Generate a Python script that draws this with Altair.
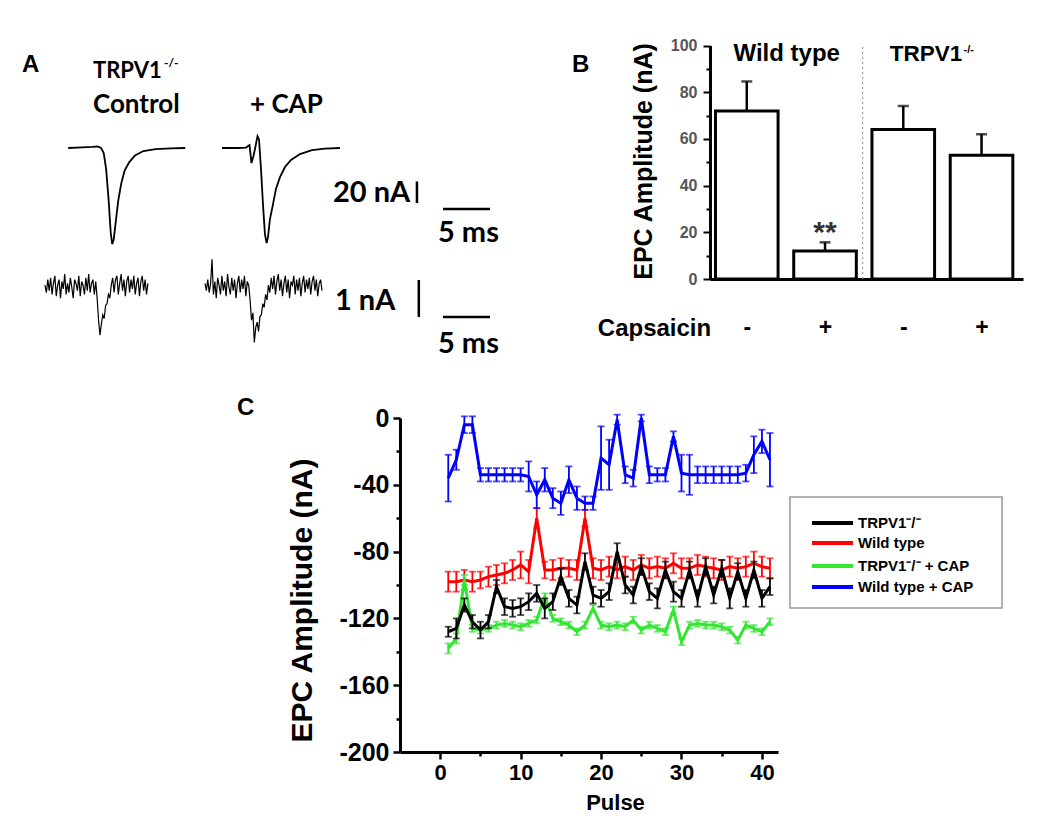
import altair as alt
import pandas as pd

# ================= Panel C : EPC amplitude per pulse =================
pulse = list(range(1, 42))

ko_mean = [-128, -126, -112, -122, -127, -122, -101, -113, -114, -113,
           -110, -105, -114, -110, -95, -108, -112, -86, -106, -108,
           -104, -80, -100, -106, -89, -104, -108, -91, -104, -108,
           -91, -108, -89, -106, -90, -108, -92, -108, -91, -108,
           -101]
ko_err = [3, 6, 4, 4, 5, 4, 4, 5, 5, 5,
          5, 5, 6, 5, 5, 5, 5, 5, 5, 5,
          5, 5, 5, 5, 5, 5, 6, 5, 6, 5,
          5, 5, 5, 5, 5, 6, 5, 5, 5, 5,
          5]

wt_mean = [-98, -98, -97, -98, -97, -95, -94, -93, -91, -88,
           -92, -60, -91, -91, -90, -90, -91, -60, -90, -91,
           -89, -91, -89, -91, -88, -90, -89, -90, -87, -90,
           -90, -88, -89, -90, -91, -89, -90, -89, -87, -89,
           -90]
wt_err = [6, 6, 6, 6, 5, 6, 6, 6, 6, 8,
          7, 6, 5, 6, 6, 5, 6, 5, 6, 6,
          6, 5, 6, 6, 6, 6, 6, 6, 6, 6,
          6, 6, 6, 6, 6, 6, 6, 6, 7, 6,
          6]

kocap_mean = [-138, -132, -97, -126, -127, -126, -124, -123, -124, -125,
              -123, -121, -107, -120, -122, -124, -128, -124, -114, -124,
              -125, -124, -125, -121, -127, -124, -126, -128, -115, -134,
              -124, -123, -124, -124, -125, -127, -133, -124, -126, -128,
              -122]
kocap_err = [3, 3, 3, 2, 2, 2, 2, 2, 2, 2,
             2, 2, 2, 2, 2, 2, 2, 2, 2, 2,
             2, 2, 2, 2, 2, 2, 2, 2, 2, 2,
             2, 2, 2, 2, 2, 2, 2, 2, 2, 2,
             2]

wtcap_mean = [-36, -25, -4, -4, -34, -34, -34, -34, -34, -34,
              -35, -46, -37, -48, -51, -37, -48, -51, -51, -24,
              -28, -1, -34, -36, 0, -34, -34, -34, -11, -33,
              -34, -34, -34, -34, -34, -34, -34, -33, -22, -14,
              -25]
wtcap_err = [14, 6, 5, 5, 4, 4, 4, 4, 4, 4,
             9, 8, 7, 6, 7, 8, 7, 4, 4, 19,
             15, 3, 5, 5, 2, 5, 4, 4, 3, 11,
             12, 5, 5, 5, 5, 5, 5, 5, 11, 7,
             16]

series_names = ["TRPV1\u207b/\u207b", "Wild type", "TRPV1\u207b/\u207b + CAP", "Wild type + CAP"]
series_colors = ["#000000", "#ff0000", "#33e633", "#0000ff"]
series_means = [ko_mean, wt_mean, kocap_mean, wtcap_mean]
series_errs = [ko_err, wt_err, kocap_err, wtcap_err]
draw_order = [2, 0, 1, 3]   # green, black, red, blue (last on top)

# ================= Panel B : bar chart =================
bar_x = [1, 2, 3, 4]
bar_mean = [72, 12, 64, 53]
bar_err = [12.6, 3.7, 10.1, 9.0]

# ================= Panel A : current traces =================
ctrl_t = [0, 1.5, 2.55, 3.1, 3.5, 3.78, 4.04, 4.3, 4.52, 4.68, 4.84, 5.05,
          5.32, 5.64, 6.0, 6.5, 7.1, 8.0, 9.3, 10.9, 12.45]
ctrl_v = [0, 0.5, 1, 1.4, 0, -4.6, -20, -48, -78, -89, -85, -69,
          -49, -33, -21, -13, -7, -2.8, -1, -0.3, 0]
cap_t = [0, 1.7, 2.55, 2.93, 3.14, 3.35, 3.51, 3.78, 3.94, 4.15, 4.36, 4.57,
         4.75, 4.89, 5.1, 5.43, 5.74, 6.17, 6.7, 7.34, 8.3, 9.57, 10.96, 12.55]
cap_v = [0, 0, 0.4, 2.7, -14, -7.4, -0.9, 11, 8, -19.4, -52, -80,
         -88, -83, -66, -52, -38, -27, -17.6, -11, -5.6, -2, -0.5, 0]

SMALL_DT = 0.15  # ms between samples of the small (1 nA scale) traces
small_ctrl_v = [0.05, -0.15, 0.2, -0.1, 0.25, -0.2, 0.1, 0.3, -0.25, 0.05,
                0.2, -0.3, 0.15, -0.05, 0.35, -0.2, 0.1, -0.15, 0.25, 0.0,
                -0.3, 0.2, 0.1, -0.1, 0.3, -0.25, 0.15, 0.05, -0.2, 0.25,
                -0.1, 0.35, -0.15, 0.1, 0.2, -0.2, 0.15, -0.3, -0.9, -1.3,
                -1.0, -0.75, -0.85, -0.5, -0.45, -0.2, -0.3, 0.05, 0.25, -0.15,
                0.2, 0.3, -0.2, 0.1, 0.35, -0.1, 0.2, -0.25, 0.15, 0.3,
                -0.15, 0.2, -0.05, 0.3, -0.2, 0.1, 0.25, -0.25, 0.15, 0.3,
                -0.1, 0.2, -0.2, 0.1]
small_cap_v = [0.1, -0.1, 0.2, -0.15, 0.1, 0.75, -0.2, 0.15, -0.3, 0.25,
               0.05, -0.2, 0.3, -0.1, 0.15, -0.25, 0.35, 0.0, -0.2, 0.25,
               -0.1, 0.2, -0.3, 0.1, 0.3, -0.15, 0.2, -0.05, 0.3, -0.25,
               0.15, 0.05, -0.35, -0.9, -0.7, -1.5, -1.1, -0.95, -1.2, -0.8,
               -0.75, -0.45, -0.55, -0.2, -0.35, 0.05, -0.15, 0.25, -0.05, 0.3,
               -0.2, 0.15, 0.35, -0.1, 0.2, -0.25, 0.1, 0.3, -0.15, 0.2,
               -0.3, 0.15, 0.05, 0.3, -0.2, 0.2, -0.1, 0.25, -0.25, 0.1,
               0.3, -0.15, 0.2, -0.05, 0.25, -0.2, 0.15, 0.3, -0.1, 0.2,
               -0.25, 0.1, 0.2, -0.1]

# ---------------- layout constants (view pixels; page = view + 8) ----------------
F = "Liberation Sans"
FA = "Lato"
TRACE_START = {"ctrl": 3.0, "cap": 19.36, "small_ctrl": 0.53, "small_cap": 17.55}  # ms


def axis_parts(orient, offset, values, label_size, label_color, tick_size, tick_width,
               label_padding=3, label_expr="'' + datum.value", extra=None):
    kw = dict(orient=orient, offset=offset, values=values, labelExpr=label_expr,
              tickSize=tick_size, tickWidth=tick_width, tickColor="black",
              domainWidth=3, domainColor="black", labelFont=F, labelFontWeight="bold",
              labelFontSize=label_size, labelColor=label_color, labelPadding=label_padding,
              title=None, grid=False)
    if extra:
        kw.update(extra)
    return alt.Axis(**kw)


def title_axis(orient, offset, text, size, tx, ty, angle=0, baseline="alphabetic"):
    return alt.Axis(orient=orient, offset=offset, labels=False, ticks=False, domain=False,
                    grid=False, title=text, titleFont=F, titleFontWeight="bold",
                    titleFontSize=size, titleColor="black", titleX=tx, titleY=ty,
                    titleAngle=angle, titleBaseline=baseline, titleAlign="center")


def minor_axis(orient, offset, values, size, width):
    return alt.Axis(orient=orient, offset=offset, values=values, labels=False, domain=False,
                    tickSize=size, tickWidth=width, tickColor="black", title=None, grid=False)


def carrier(df, xf, yf, xs, ys, xaxis, yaxis):
    """invisible layer that only carries axes for the given scales"""
    return alt.Chart(df).mark_point(opacity=0).encode(
        x=alt.X(xf, scale=xs, axis=xaxis), y=alt.Y(yf, scale=ys, axis=yaxis))


# ---------------- Panel A ----------------
xA = alt.Scale(domain=[0, 50], range=[32, 502], nice=False, zero=False)
yA_top = alt.Scale(domain=[-100, 20], range=[248, 118.4], nice=False, zero=False)
yA_bot = alt.Scale(domain=[-2, 1], range=[353, 242], nice=False, zero=False)

top_rows = [dict(trace="ctrl", t=t + TRACE_START["ctrl"], v=v) for t, v in zip(ctrl_t, ctrl_v)]
top_rows += [dict(trace="cap", t=t + TRACE_START["cap"], v=v) for t, v in zip(cap_t, cap_v)]
df_top = pd.DataFrame(top_rows)

bot_rows = [dict(trace="small_ctrl", t=i * SMALL_DT + TRACE_START["small_ctrl"], v=v)
            for i, v in enumerate(small_ctrl_v)]
bot_rows += [dict(trace="small_cap", t=i * SMALL_DT + TRACE_START["small_cap"], v=v)
             for i, v in enumerate(small_cap_v)]
df_bot = pd.DataFrame(bot_rows)

top_bars = pd.DataFrame([dict(t=40.1, t2=40.1, v=-51, v2=-31),      # 20 nA
                         dict(t=42.87, t2=47.87, v=-56.5, v2=-56.5)])  # 5 ms
bot_bars = pd.DataFrame([dict(t=40.3, t2=40.3, v=-0.81, v2=0.19),    # 1 nA
                         dict(t=42.87, t2=47.87, v=-0.81, v2=-0.81)])  # 5 ms

A_top = alt.layer(
    alt.Chart(df_top).mark_line(color="black", strokeWidth=1.8).encode(
        x=alt.X("t:Q", scale=xA, axis=None),
        y=alt.Y("v:Q", scale=yA_top, axis=None),
        detail="trace:N"),
    alt.Chart(top_bars).mark_rule(color="black", strokeWidth=2.5).encode(
        x=alt.X("t:Q", scale=xA, axis=None), x2="t2:Q",
        y=alt.Y("v:Q", scale=yA_top, axis=None), y2="v2:Q"),
)
A_bot = alt.layer(
    alt.Chart(df_bot).mark_line(color="black", strokeWidth=1.2).encode(
        x=alt.X("t:Q", scale=xA, axis=None),
        y=alt.Y("v:Q", scale=yA_bot, axis=None),
        detail="trace:N"),
    alt.Chart(bot_bars).mark_rule(color="black", strokeWidth=2.5).encode(
        x=alt.X("t:Q", scale=xA, axis=None), x2="t2:Q",
        y=alt.Y("v:Q", scale=yA_bot, axis=None), y2="v2:Q"),
)

# ---------------- Panel B ----------------
BAR_HALF = 0.4
xB = alt.Scale(domain=[0.53, 4.53], range=[702, 1015], nice=False, zero=False)
yB = alt.Scale(domain=[0, 100], range=[271, 37.5], nice=False, zero=False)

dfB = pd.DataFrame(dict(x=bar_x, mean=bar_mean, err=bar_err))
dfB["left"] = dfB["x"] - BAR_HALF
dfB["right"] = dfB["x"] + BAR_HALF
dfB["top"] = dfB["mean"] + dfB["err"]

bars = alt.Chart(dfB).mark_bar(fill="white", stroke="black", strokeWidth=3).encode(
    x=alt.X("left:Q", scale=xB, axis=None), x2="right:Q",
    y=alt.Y("mean:Q", scale=yB, axis=None), y2=alt.datum(0))
err_B = alt.Chart(dfB).mark_rule(color="black", strokeWidth=2.5).encode(
    x=alt.X("x:Q", scale=xB, axis=None),
    y=alt.Y("mean:Q", scale=yB, axis=None), y2="top:Q")
cap_B = alt.Chart(dfB).mark_tick(color="black", thickness=2.5, size=11, orient="horizontal").encode(
    x=alt.X("x:Q", scale=xB, axis=None),
    y=alt.Y("top:Q", scale=yB, axis=None))
sep_B = alt.Chart(pd.DataFrame(dict(x=[2.48], y=[0], y2=[100]))).mark_rule(
    color="#999999", strokeWidth=1.2, strokeDash=[2, 3]).encode(
    x=alt.X("x:Q", scale=xB, axis=None),
    y=alt.Y("y:Q", scale=yB, axis=None), y2="y2:Q")

heads = alt.layer(
    alt.Chart(pd.DataFrame(dict(x=[1.51], y=[93.4], text=["Wild type"]))).mark_text(
        font=F, fontWeight="bold", fontSize=24, align="center", baseline="alphabetic", color="black"
    ).encode(x=alt.X("x:Q", scale=xB, axis=None), y=alt.Y("y:Q", scale=yB, axis=None), text="text:N"),
    alt.Chart(pd.DataFrame(dict(x=[3.29], y=[93.4], text=["TRPV1"]))).mark_text(
        font=F, fontWeight="bold", fontSize=22.5, align="center", baseline="alphabetic", color="black"
    ).encode(x=alt.X("x:Q", scale=xB, axis=None), y=alt.Y("y:Q", scale=yB, axis=None), text="text:N"),
    alt.Chart(pd.DataFrame(dict(x=[3.77], y=[97.0], text=["-/-"]))).mark_text(
        font=F, fontWeight="bold", fontSize=11, align="left", baseline="alphabetic", color="black"
    ).encode(x=alt.X("x:Q", scale=xB, axis=None), y=alt.Y("y:Q", scale=yB, axis=None), text="text:N"),
    alt.Chart(pd.DataFrame(dict(x=[2], y=[16], text=["**"]))).mark_text(
        font=F, fontWeight="bold", fontSize=30, align="center", baseline="alphabetic", color="#333333"
    ).encode(x=alt.X("x:Q", scale=xB, axis=None), y=alt.Y("y:Q", scale=yB, axis=None), text="text:N"),
)
B = alt.layer(sep_B, bars, err_B, cap_B, heads)

B_axes = carrier(dfB, "x:Q", "mean:Q", xB, yB,
                 axis_parts("bottom", -534, bar_x, 23, "black", 0, 0, label_padding=55,
                            label_expr="datum.value % 2 == 1 ? '-' : '+'",
                            extra=dict(ticks=False, labelBaseline="alphabetic")),
                 axis_parts("left", -702, list(range(0, 101, 20)), 16, "#555555", 7, 2,
                            label_padding=6))
B_minor = carrier(dfB, "x:Q", "mean:Q", xB, yB, None,
                  minor_axis("left", -702, list(range(10, 100, 20)), 4, 2))
B_titles = carrier(dfB, "x:Q", "mean:Q", xB, yB,
                   title_axis("bottom", -534, "Capsaicin", 24, 646, 56),
                   title_axis("left", -702, "EPC Amplitude (nA)", 25, -67, 153, angle=270,
                              baseline="middle"))

# ---------------- Panel C ----------------
xC = alt.Scale(domain=[-5, 42], range=[392, 770], nice=False, zero=False)
yC = alt.Scale(domain=[-200, 0], range=[744, 410], nice=False, zero=False)
colorC = alt.Scale(domain=series_names, range=series_colors)

c_layers = []
for k in sorted(range(4), key=lambda j: draw_order[j]):
    d = pd.DataFrame(dict(pulse=pulse, mean=series_means[k], err=series_errs[k]))
    d["series"] = series_names[k]
    d["lo"] = d["mean"] - d["err"]
    d["hi"] = d["mean"] + d["err"]
    col = alt.Color("series:N", scale=colorC, legend=None)
    c_layers.append(alt.Chart(d).mark_line(strokeWidth=3).encode(
        x=alt.X("pulse:Q", scale=xC, axis=None),
        y=alt.Y("mean:Q", scale=yC, axis=None), color=col))
    c_layers.append(alt.Chart(d).mark_rule(strokeWidth=1.8).encode(
        x=alt.X("pulse:Q", scale=xC, axis=None),
        y=alt.Y("lo:Q", scale=yC, axis=None), y2="hi:Q", color=col))
    for fld in ["lo", "hi"]:
        c_layers.append(alt.Chart(d).mark_tick(thickness=1.8, size=7, orient="horizontal").encode(
            x=alt.X("pulse:Q", scale=xC, axis=None),
            y=alt.Y(fld + ":Q", scale=yC, axis=None), color=col))
C = alt.layer(*c_layers)

dfC_carrier = pd.DataFrame(dict(pulse=pulse, mean=ko_mean))
C_axes = carrier(dfC_carrier, "pulse:Q", "mean:Q", xC, yC,
                 axis_parts("bottom", -61, list(range(0, 41, 10)), 22, "black", 7, 2.5),
                 axis_parts("left", -392, list(range(-200, 1, 40)), 25, "black", 7, 2.5,
                            label_padding=4))
C_minor = carrier(dfC_carrier, "pulse:Q", "mean:Q", xC, yC,
                  minor_axis("bottom", -61, list(range(5, 41, 10)), 4, 2.5),
                  minor_axis("left", -392, list(range(-180, 0, 40)), 4, 2.5))
C_titles = carrier(dfC_carrier, "pulse:Q", "mean:Q", xC, yC,
                   title_axis("bottom", -61, "Pulse", 22, 607, 57),
                   title_axis("left", -392, "EPC Amplitude (nA)", 30, -98, 592, angle=270,
                              baseline="middle"))

# ---------------- Panel C legend (box, swatches, names) ----------------
LEG_BOX = (782, 994, 489, 600)      # x1, x2, y1, y2
LEG_ROWS = [515, 535, 558, 579]      # row centres
LEG_SW = (804, 845)                  # swatch x range
LEG_TX = 850                         # label x

legend_layers = [
    alt.Chart(pd.DataFrame({"a": [0]})).mark_rect(fill="white", stroke="#999999", strokeWidth=1.5).encode(
        x=alt.value(LEG_BOX[0]), x2=alt.value(LEG_BOX[1]),
        y=alt.value(LEG_BOX[2]), y2=alt.value(LEG_BOX[3])),
]
for name, color, row in zip(series_names, series_colors, LEG_ROWS):
    one = pd.DataFrame({"series": [name]})
    legend_layers.append(alt.Chart(one).mark_rule(color=color, strokeWidth=4).encode(
        x=alt.value(LEG_SW[0]), x2=alt.value(LEG_SW[1]), y=alt.value(row)))
    legend_layers.append(alt.Chart(one).mark_text(
        font=F, fontWeight="bold", fontSize=15, align="left", baseline="middle", color="black").encode(
        x=alt.value(LEG_TX), y=alt.value(row), text="series:N"))


# ---------------- free text labels ----------------
def label(text, x, y, size, font=F, align="left", baseline="alphabetic"):
    return alt.Chart(pd.DataFrame({"label": [text]})).mark_text(
        font=font, fontSize=size, fontWeight="bold", align=align, baseline=baseline,
        color="black").encode(text="label:N", x=alt.value(x), y=alt.value(y))


labels = [
    label("A", 14, 64, 24),
    label("TRPV1", 85, 70, 22, FA),
    label("-/-", 156, 59, 12, FA),
    label("Control", 85, 105, 26, FA),
    label("+ CAP", 242, 105, 26, FA),
    label("20 nA", 325, 194, 29, FA),
    label("5 ms", 430, 234, 29, FA),
    label("1 nA", 327, 302, 29, FA),
    label("5 ms", 430, 345, 29, FA),
    label("B", 564, 64, 24),
    label("C", 229, 407, 24),
]

chart = alt.layer(
    A_top, A_bot, B, B_axes, B_minor, B_titles, C, C_axes, C_minor, C_titles,
    *legend_layers, *labels
).resolve_scale(
    x="independent", y="independent", color="independent"
).properties(
    width=1034, height=805, autosize=alt.AutoSizeParams(type="none"),
    padding=0, background="white"
).configure_view(stroke=None)

chart.save("out.html", embed_options={"renderer": "svg", "actions": False})
